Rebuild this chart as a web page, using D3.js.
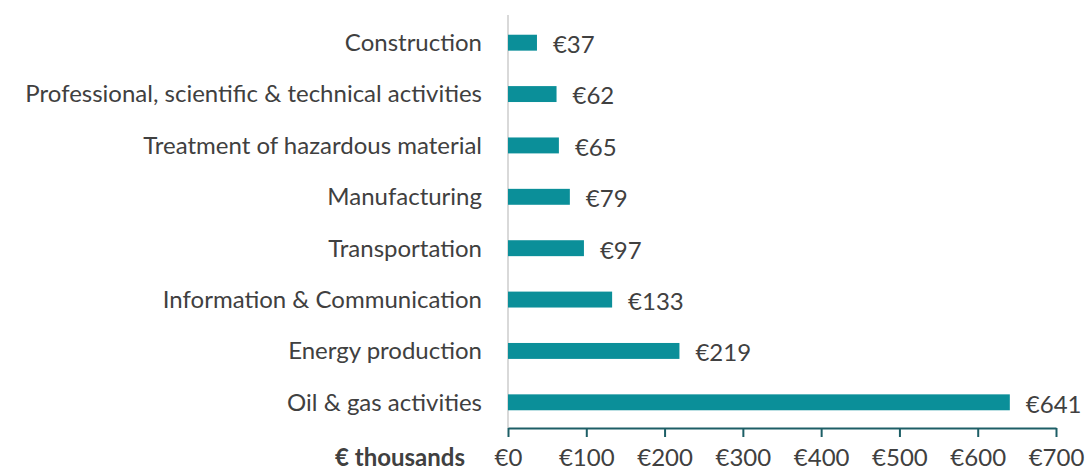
<!DOCTYPE html>
<html><head><meta charset="utf-8">
<script src="https://cdn.jsdelivr.net/npm/d3@7"></script>
<style>body{margin:0;background:#fff}svg{display:block}</style>
</head><body>
<svg id="c" width="1086" height="471"></svg>
<script>
const categories = ["Construction","Professional, scientific & technical activities","Treatment of hazardous material","Manufacturing","Transportation","Information & Communication","Energy production","Oil & gas activities"];
const values = [37,62,65,79,97,133,219,641];
const tickValues = [0,100,200,300,400,500,600,700];
const axisTitle = "€ thousands";

const svg = d3.select("#c");
const font = "Lato, 'Open Sans', sans-serif";
const fs = 24;
const x = d3.scaleLinear().domain([0,700]).range([508,1056]);
const y = d3.scaleBand().domain(categories).range([17,428]).paddingInner(0.69).paddingOuter(0.345);
const barColor = "#0b8f99";
const textColor = "#404040";

svg.append("line").attr("x1",x(0)).attr("x2",x(0)).attr("y1",15).attr("y2",428)
  .attr("stroke","#d9d9d9").attr("stroke-width",2);

svg.selectAll("rect.bar").data(values).join("rect").attr("class","bar")
  .attr("x",x(0)).attr("y",(d,i)=>y(categories[i]))
  .attr("width",d=>x(d)-x(0)).attr("height",y.bandwidth()).attr("fill",barColor);

svg.selectAll("text.cat").data(categories).join("text").attr("class","cat")
  .attr("x",482).attr("y",d=>y(d)+y.bandwidth()/2).attr("dy","0.35em")
  .attr("text-anchor","end").attr("font-family",font).attr("font-size",fs).attr("fill",textColor)
  .text(d=>d);

svg.selectAll("text.val").data(values).join("text").attr("class","val")
  .attr("x",d=>x(d)+16).attr("y",(d,i)=>y(categories[i])+y.bandwidth()/2+2).attr("dy","0.35em")
  .attr("font-family",font).attr("font-size",fs).attr("fill",textColor)
  .text(d=>"€"+d);

const axis = d3.axisBottom(x).tickValues(tickValues).tickSize(9).tickSizeOuter(0).tickPadding(12)
  .tickFormat(d=>"€"+d);
const g = svg.append("g").attr("transform","translate(0,428)").call(axis);
g.select(".domain").attr("stroke","#1d5e66").attr("stroke-width",2);
g.selectAll(".tick line").attr("stroke","#1d5e66").attr("stroke-width",2);
g.selectAll(".tick text").attr("font-family",font).attr("font-size",fs).attr("fill",textColor);

svg.append("text").attr("x",465).attr("y",466).attr("text-anchor","end")
  .attr("font-family",font).attr("font-size",fs).attr("font-weight","bold").attr("fill",textColor)
  .text(axisTitle);
</script>
</body></html>
